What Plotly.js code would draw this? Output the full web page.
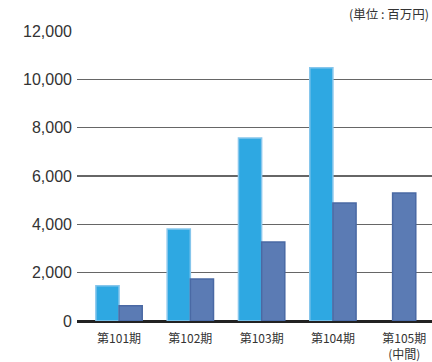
<!DOCTYPE html>
<html>
<head>
<meta charset="utf-8">
<script src="https://cdn.plot.ly/plotly-3.0.1.min.js"></script>
<style>html,body{margin:0;padding:0;background:#fff;}#chart{width:432px;height:362px;}</style>
</head>
<body>
<div id="chart"></div>
<script>
var categories = ["第101期", "第102期", "第103期", "第104期", "第105期<br>(中間)"];
var seriesA = [1460, 3810, 7570, 10480, null];
var seriesB = [630, 1740, 3270, 4880, 5300];
var tickValsY = [0, 2000, 4000, 6000, 8000, 10000, 12000];
var unitLabel = "(単位 : 百万円)";

var bw = 0.325;
var traceA = {
  type: "bar", x: categories, y: seriesA,
  width: bw, offset: -bw,
  marker: {color: "#2ea8e2", line: {color: "#86c6ec", width: 1.5}},
  hoverinfo: "none"
};
var traceB = {
  type: "bar", x: categories, y: seriesB,
  width: bw, offset: [0, 0, 0, 0, -bw / 2],
  marker: {color: "#5b7bb4", line: {color: "#4a69a4", width: 1.5}},
  hoverinfo: "none"
};

var layout = {
  width: 432, height: 362,
  margin: {l: 77, r: 0, t: 31, b: 41},
  paper_bgcolor: "#fff", plot_bgcolor: "#fff",
  barmode: "overlay",
  showlegend: false,
  xaxis: {
    type: "category",
    range: [-0.59, 4.39],
    showgrid: false, zeroline: false, showline: false, ticks: "",
    tickfont: {family: "Noto Sans CJK JP", size: 12, color: "#333"},
    ticklabelstandoff: 9
  },
  yaxis: {
    range: [0, 12000],
    tickvals: tickValsY,
    tickformat: ",d",
    showgrid: true, gridcolor: "#666", gridwidth: 1.5,
    zeroline: true, zerolinecolor: "#222", zerolinewidth: 3,
    showline: false, ticks: "",
    tickfont: {family: "Liberation Sans, Arial, sans-serif", size: 16, color: "#333"},
    ticklabelstandoff: 4
  },
  annotations: [{
    text: unitLabel, xref: "paper", yref: "paper", x: 1, y: 1,
    xanchor: "right", yanchor: "bottom", yshift: 6, xshift: -1, showarrow: false,
    font: {family: "Noto Sans CJK JP", size: 12.5, color: "#333"}
  }]
};
Plotly.newPlot("chart", [traceA, traceB], layout, {displayModeBar: false, staticPlot: true});
</script>
</body>
</html>
